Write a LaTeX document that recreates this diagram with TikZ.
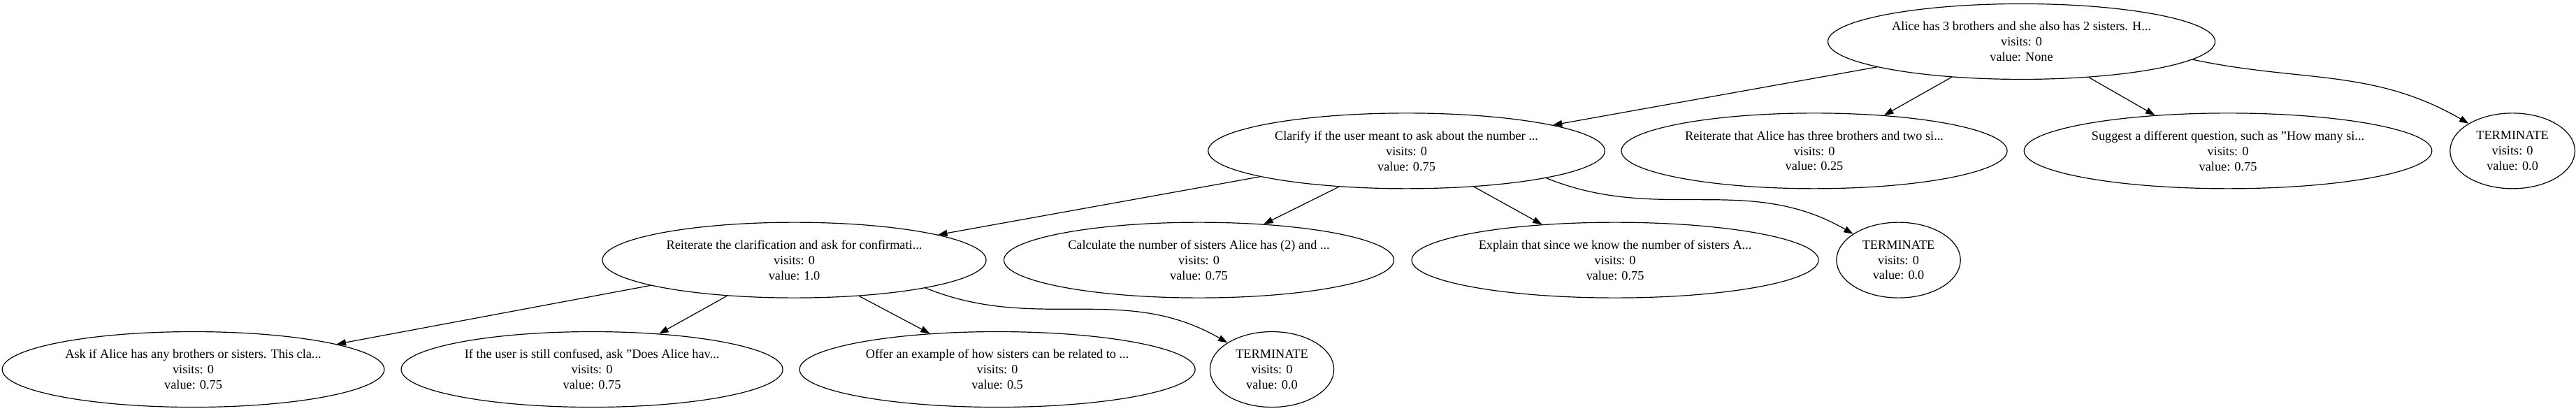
\documentclass[tikz,border=0pt]{standalone}
\usepackage{fontspec}
\setmainfont{Liberation Serif}
\usetikzlibrary{shapes.geometric,arrows.meta}
\tikzset{
  tnode/.style={draw=black, line width=0.9pt, ellipse, inner sep=0pt, minimum height=81pt,
    align=center, font=\fontsize{13.7}{16.4}\selectfont},
  edge/.style={draw=black, line width=0.9pt, -{Triangle[length=10pt,width=7pt]}}
}
\begin{document}
\begin{tikzpicture}[x=1pt,y=1pt]
\useasboundingbox (0,0) rectangle (2764.5,441);
% rank 0
\node[tnode, minimum width=415.5pt] (root) at (2169.4,396.4) {Alice has 3 brothers and she also has 2 sisters. H...\\visits: 0\\value: None};
% rank 1
\node[tnode, minimum width=425.7pt] (c1) at (1509.4,279.1) {Clarify if the user meant to ask about the number ...\\visits: 0\\value: 0.75};
\node[tnode, minimum width=414pt] (c2) at (1947,279.1) {Reiterate that Alice has three brothers and two si...\\visits: 0\\value: 0.25};
\node[tnode, minimum width=437.7pt] (c3) at (2391,279.1) {Suggest a different question, such as "How many si...\\visits: 0\\value: 0.75};
\node[tnode, minimum width=134pt] (c4) at (2696.3,279.1) {TERMINATE\\visits: 0\\value: 0.0};
% rank 2
\node[tnode, minimum width=411.8pt] (d1) at (852.4,161.9) {Reiterate the clarification and ask for confirmati...\\visits: 0\\value: 1.0};
\node[tnode, minimum width=418.5pt] (d2) at (1286.6,161.9) {Calculate the number of sisters Alice has (2) and ...\\visits: 0\\value: 0.75};
\node[tnode, minimum width=436.5pt] (d3) at (1733.3,161.9) {Explain that since we know the number of sisters A...\\visits: 0\\value: 0.75};
\node[tnode, minimum width=133pt] (d4) at (2037.4,161.9) {TERMINATE\\visits: 0\\value: 0.0};
% rank 3
\node[tnode, minimum width=410pt] (e1) at (207.4,44.6) {Ask if Alice has any brothers or sisters. This cla...\\visits: 0\\value: 0.75};
\node[tnode, minimum width=409.5pt] (e2) at (635.3,44.6) {If the user is still confused, ask "Does Alice hav...\\visits: 0\\value: 0.75};
\node[tnode, minimum width=424.5pt] (e3) at (1070.3,44.6) {Offer an example of how sisters can be related to ...\\visits: 0\\value: 0.5};
\node[tnode, minimum width=133pt] (e4) at (1365,44.6) {TERMINATE\\visits: 0\\value: 0.0};
% edges
\draw[edge] (root.190) -- (c1.10);
\draw[edge] (root.207.6) -- (c2.27);
\draw[edge] (root.332) -- (c3.154.6);
\draw[edge] (root.354) to[out=-12, in=150] (c4.148);
\draw[edge] (c1.190) -- (d1.10.9);
\draw[edge] (c1.208) -- (d2.29);
\draw[edge] (c1.332) -- (d3.154);
\draw[edge] (c1.349.6) to[out=-22, in=150] (d4.150);
\draw[edge] (d1.190) -- (e1.10.5);
\draw[edge] (d1.208) -- (e2.28);
\draw[edge] (d1.331) -- (e3.152);
\draw[edge] (d1.348.6) to[out=-22, in=150] (e4.149);
\end{tikzpicture}
\end{document}
